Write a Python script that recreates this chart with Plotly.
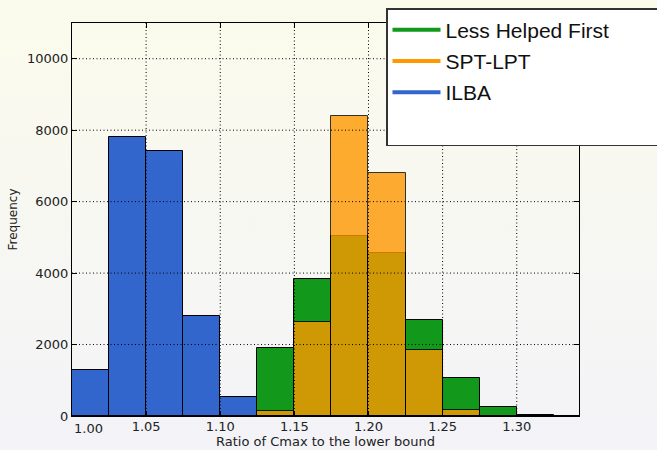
import base64
import plotly.graph_objects as go

# Histogram bins (left edges) and counts per bin for each heuristic
bin_left = [1.000, 1.025, 1.050, 1.075, 1.100, 1.125, 1.150,
            1.175, 1.200, 1.225, 1.250, 1.275, 1.300, 1.325]
bin_width = 0.025
less_helped_first = [0, 0, 0, 0, 0, 1910, 3830, 5030, 4570, 2700, 1050, 255, 40, 12]
spt_lpt = [0, 0, 0, 0, 0, 140, 2630, 8390, 6790, 1840, 170, 0, 0, 0]
ilba = [1300, 7820, 7420, 2810, 530, 0, 0, 0, 0, 0, 0, 0, 0, 0]

x_ticks = [1.00, 1.05, 1.10, 1.15, 1.20, 1.25, 1.30]
x_labels = ["1.00", "1.05", "1.10", "1.15", "1.20", "1.25", "1.30"]
y_ticks = [0, 2000, 4000, 6000, 8000, 10000]
y_labels = ["0", "2000", "4000", "6000", "8000", "10000"]

centers = [b + bin_width / 2 for b in bin_left]

W, H = 657, 450
ML, MR, MT, MB = 72, 78, 23, 34
PW, PH = W - ML - MR, H - MT - MB

fig = go.Figure()

series = [
    ("Less Helped First", less_helped_first, "#12991b", 1.0),
    ("SPT-LPT", spt_lpt, "#ff9900", 0.8),
    ("ILBA", ilba, "#3366cc", 1.0),
]

for name, counts, color, alpha in series:
    fig.add_trace(go.Bar(
        x=centers, y=counts, width=bin_width,
        marker=dict(color=color, line=dict(color="#000000", width=1)),
        opacity=alpha, showlegend=False, name=name,
    ))

for i, (name, _, color, _) in enumerate(series):
    fig.add_trace(go.Scatter(
        x=[None], y=[None], mode="lines", name=name,
        line=dict(color=color, width=4),
        legendgroup=f"g{i}",
    ))
# empty, wide slot at the bottom of the legend box
fig.add_trace(go.Scatter(
    x=[None], y=[None], mode="lines", name="\u00a0" * 46,
    line=dict(color="rgba(0,0,0,0)", width=4), legendgroup="g3",
))

# soft vertical background gradient for the whole figure
svg = (
    f'<svg xmlns="http://www.w3.org/2000/svg" width="{W}" height="{H}">'
    '<defs><linearGradient id="g" x1="0" y1="0" x2="0" y2="1">'
    '<stop offset="0" stop-color="#fbfbec"/>'
    '<stop offset="1" stop-color="#f3f3f8"/>'
    '</linearGradient></defs>'
    f'<rect width="{W}" height="{H}" fill="url(#g)"/></svg>'
)
bg_uri = "data:image/svg+xml;base64," + base64.b64encode(svg.encode()).decode()
fig.add_layout_image(dict(
    source=bg_uri, xref="paper", yref="paper",
    x=-ML / PW, y=1 + MT / PH, sizex=W / PW, sizey=H / PH,
    xanchor="left", yanchor="top", sizing="stretch", layer="below",
))

# dotted grid drawn over the bars
grid = dict(color="#000000", width=1, dash="1px,2.5px")
for xv in x_ticks[1:]:
    fig.add_shape(type="line", xref="x", yref="paper", x0=xv, x1=xv, y0=0, y1=1,
                  line=grid, layer="above")
for yv in y_ticks[1:]:
    fig.add_shape(type="line", xref="paper", yref="y", x0=0, x1=1, y0=yv, y1=yv,
                  line=grid, layer="above")

axis_font = dict(family="DejaVu Sans", size=13, color="#222222")

# first x label sits just right of the axis corner, clear of the "0" label
fig.add_annotation(
    x=x_ticks[0], xref="x", y=0, yref="paper", yshift=-3,
    text=x_labels[0], showarrow=False, xanchor="left", yanchor="top",
    font=axis_font,
)

fig.update_layout(
    width=W, height=H,
    margin=dict(l=ML, r=MR, t=MT, b=MB, autoexpand=False),
    paper_bgcolor="#f7f7f2",
    plot_bgcolor="rgba(0,0,0,0)",
    barmode="overlay",
    bargap=0,
    font=axis_font,
    xaxis=dict(
        range=[1.0, 1.342], tickvals=x_ticks, ticktext=[""] + x_labels[1:],
        ticks="inside", ticklen=5, tickcolor="#000000", mirror="ticks",
        showline=True, linecolor="#000000", linewidth=1, showgrid=False, zeroline=False,
        ticklabelstandoff=-2,
        title=dict(text="Ratio of Cmax to the lower bound", font=axis_font, standoff=4),
        layer="above traces",
    ),
    yaxis=dict(
        range=[0, 11000], tickvals=y_ticks, ticktext=y_labels, ticks="inside", ticklen=5,
        tickcolor="#000000", mirror="ticks", showline=True, linecolor="#000000",
        linewidth=1, showgrid=False, zeroline=False,
        title=dict(text="Frequency", font=dict(family="DejaVu Sans", size=12, color="#222222"),
                   standoff=6),
        layer="above traces",
    ),
    legend=dict(
        x=(386 - ML) / PW, y=1 + (MT - 8) / PH, xanchor="left", yanchor="top",
        bgcolor="#ffffff", bordercolor="#333333", borderwidth=1.5,
        font=dict(family="Liberation Sans", size=21, color="#111111"),
        traceorder="grouped", tracegroupgap=1, itemwidth=48,
    ),
)

fig.write_html("out.html")
